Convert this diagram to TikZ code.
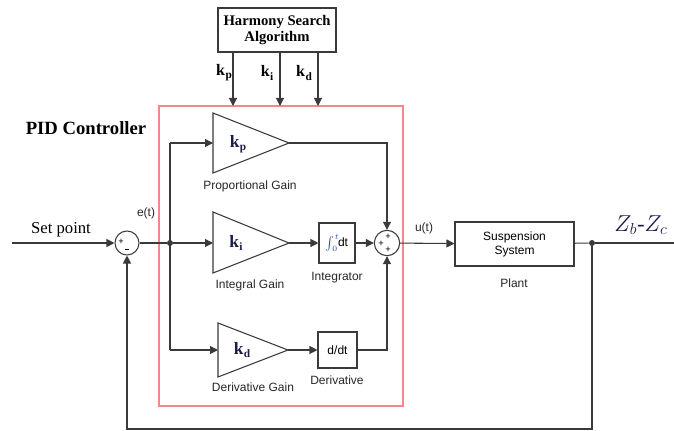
\documentclass[tikz,border=0pt]{standalone}
\usepackage{fontspec}
\setmainfont{Liberation Serif}
\setsansfont{Liberation Sans}
\usetikzlibrary{arrows.meta,fit,calc}
\definecolor{ln}{HTML}{3A3A3A}
\definecolor{redbox}{HTML}{F08A8A}
\definecolor{navy}{HTML}{1C1C48}
\definecolor{intblue}{HTML}{2A4FA0}
\newcommand\kk[1]{k\kern0.3pt\raisebox{-0.45ex}{\fontsize{8.5}{9}\selectfont #1}}
\begin{document}
\begin{tikzpicture}[x=0.75pt,y=-0.75pt,
  wire/.style={draw=ln, line width=0.8pt},
  arr/.style={wire,-{Triangle[length=6pt,width=6pt]}},
  blk/.style={draw=ln,line width=0.8pt,fill=white,inner sep=0pt,align=center,font=\sffamily\fontsize{9}{10.5}\selectfont},
  lbl/.style={font=\sffamily\fontsize{9}{10.5}\selectfont,text=black!85,inner sep=0},
  sumc/.style={circle,draw=ln,line width=0.8pt,fill=white,minimum size=19pt,inner sep=0},
  sgn/.style={font=\sffamily\fontsize{7}{7}\selectfont,inner sep=0},
  tri/.style={draw=ln,line width=0.8pt,fill=white},
  gk/.style={font=\bfseries\fontsize{13}{15}\selectfont,text=navy,inner sep=0},
  topk/.style={font=\bfseries\fontsize{12}{14}\selectfont,inner sep=0},
  dot/.style={circle,fill=ln,inner sep=0,minimum size=4.5pt},
  ]
\useasboundingbox (0,0) rectangle (674,431);

% PID red frame
\node[draw=redbox,line width=0.9pt,inner sep=0,fit={(159,106)(403,406)}] (pid) {};
\node[font=\bfseries\fontsize{14}{16}\selectfont,inner sep=0] (pidlbl) at (86,128) {PID Controller};

% Harmony search box
\node[blk,font=\bfseries\fontsize{11}{12.5}\selectfont,minimum width=88.5pt,minimum height=33pt] (hs) at (277,30) {Harmony Search\\Algorithm};
\coordinate (kpin) at (233,106);
\coordinate (kiin) at (280,106);
\coordinate (kdin) at (318,106);
\draw[arr] (kpin |- hs.south) -- (kpin);
\draw[arr] (kiin |- hs.south) -- (kiin);
\draw[arr] (kdin |- hs.south) -- (kdin);
\node[topk] (kpl) at (224,73) {\kk{p}};
\node[topk] (kil) at (267,73) {\kk{i}};
\node[topk] (kdl) at (304,73) {\kk{d}};

% sums
\node[sumc,minimum size=18pt] (s1) at (127,243) {};
\node[sgn] (s1p) at (121,242) {+};
\node[sgn] (s1m) at (127,249) {\rule{3.2pt}{0.6pt}};
\node[sumc] (s2) at (387,243) {};
\node[sgn] (s2a) at (388,237) {+};
\node[sgn] (s2b) at (381,244) {+};
\node[sgn] (s2c) at (388,250) {+};

% gains
\draw[tri] (213,113) -- (289,143) -- (213,173) -- cycle;
\coordinate (pin) at (213,143); \coordinate (pout) at (289,143);
\node[gk] (pk) at (238,144) {\kk{p}};
\node[lbl] (pl) at (250,186) {Proportional Gain};

\draw[tri] (213,212) -- (289,243) -- (213,273) -- cycle;
\coordinate (iin) at (213,243); \coordinate (iout) at (289,243);
\node[gk] (ik) at (236,243) {\kk{i}};
\node[lbl] (il) at (250,285) {Integral Gain};

\draw[tri] (218,323) -- (288,350) -- (218,377) -- cycle;
\coordinate (din) at (218,350); \coordinate (dout) at (288,350);
\node[gk] (dk) at (242,350) {\kk{d}};
\node[lbl] (dl) at (253,387) {Derivative Gain};

% integrator and derivative
\node[blk,minimum width=27pt,minimum height=30pt] (intg) at (337,243) {\textcolor{intblue}{$\int_{0}^{t}$}\kern-1pt dt};
\node[lbl] (intl) at (337,278) {Integrator};
\node[blk,minimum width=29.25pt,minimum height=27pt] (der) at (337.5,350) {d/dt};
\node[lbl] (derl) at (337,380) {Derivative};

% plant
\node[blk,minimum width=89.25pt,minimum height=33pt] (plant) at (514.5,244) {Suspension\\System};
\node[lbl] (plantl) at (514,283) {Plant};

% branch points
\node[dot] (br) at (170,243) {};
\node[dot] (ob) at (592,243) {};
\coordinate (sp) at (12,243);
\coordinate (outend) at (674,243);
\coordinate (fb) at (592,429);

% wires
\draw[arr] (sp) -- (s1);
\draw[wire] (s1) -- (br);
\draw[wire] (pin -| br) -- (din -| br);
\draw[arr] (pin -| br) -- (pin);
\draw[arr] (br) -- (iin);
\draw[arr] (din -| br) -- (din);
\draw[arr] (pout) -| (s2);
\draw[arr] (iout) -- (intg);
\draw[arr] (intg) -- (s2);
\draw[arr] (dout) -- (der);
\draw[arr] (der) -| (s2);
\draw[arr] (s2) -- (plant);
\draw[wire] (plant) -- (ob);
\draw[wire] (ob) -- (outend);
\draw[arr] (ob) -- (fb) -| (s1);

% signal labels
\node[font=\fontsize{12.5}{14}\selectfont,inner sep=0] (spl) at (61,230) {Set point};
\node[lbl] (et) at (146,213) {e(t)};
\node[lbl] (ut) at (424,228) {u(t)};
\node[font=\fontsize{17}{19}\selectfont,text=navy,inner sep=0] (zl) at (641,225) {$Z_b$-$Z_c$};
\end{tikzpicture}
\end{document}
